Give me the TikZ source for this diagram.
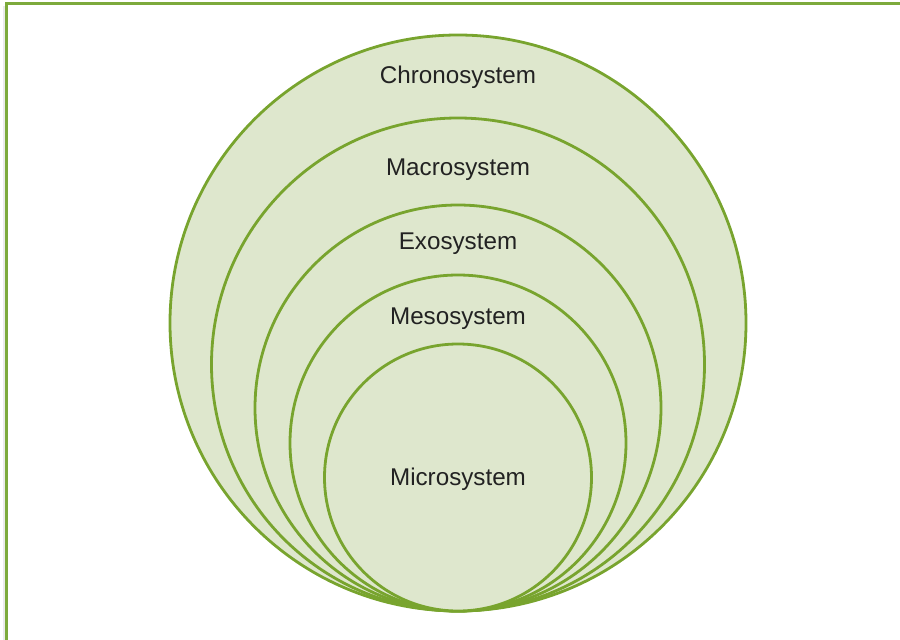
\documentclass[tikz,border=0pt]{standalone}
\usepackage{fontspec}
\setmainfont{Liberation Sans}
\definecolor{ringline}{HTML}{78A42E}
\definecolor{ringfill}{HTML}{DEE7CD}
\definecolor{framegreen}{HTML}{7DAA3C}
\definecolor{labeltext}{HTML}{222222}
\begin{document}
\begin{tikzpicture}[x=1pt,y=-1pt,
  ring/.style={circle, draw=ringline, fill=ringfill, line width=2.8pt, inner sep=0pt},
  lbl/.style={text=labeltext, font=\fontsize{24.2}{28}\selectfont, inner sep=0pt, anchor=center}]
\useasboundingbox (0,0) rectangle (900,640);
% frame (only left and top edges visible)
\draw[black!8, line width=2pt] (4.3,640) -- (4.3,5.5);
\draw[framegreen, line width=2.2pt] (6.5,645) -- (6.5,3.5) -- (905,3.5);
% rings, all tangent at the bottom
\node[ring, minimum size=576pt] (chrono) at (458,323) {};
\node[ring, minimum size=493pt] (macro) at (458,364.5) {};
\node[ring, minimum size=406pt] (exo) at (458,408) {};
\node[ring, minimum size=336pt] (meso) at (458,443) {};
\node[ring, minimum size=267pt] (micro) at (458,477.5) {};
% labels
\node[lbl] (tchrono) at (458,77) {Chronosystem};
\node[lbl] (tmacro) at (458,170) {Macrosystem};
\node[lbl] (texo) at (458,244) {Exosystem};
\node[lbl] (tmeso) at (458,319) {Mesosystem};
\node[lbl] (tmicro) at (458,479) {Microsystem};
\end{tikzpicture}
\end{document}
